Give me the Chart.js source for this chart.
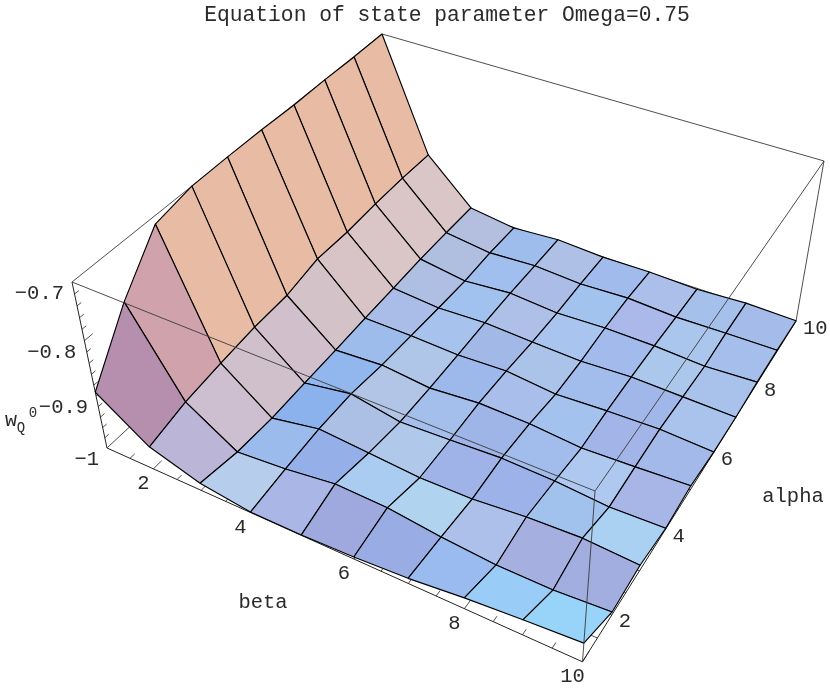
<!DOCTYPE html>
<html>
<head>
<meta charset="utf-8">
<title>Equation of state parameter</title>
<script src="https://cdn.jsdelivr.net/npm/chart.js@4/dist/chart.umd.min.js"></script>
<style>
  html, body { margin: 0; padding: 0; background: #fff; }
  canvas { display: block; }
</style>
</head>
<body>
<canvas id="surfaceChart" width="830" height="693"></canvas>
<script>
const betaValues = [1, 2, 3, 4, 5, 6, 7, 8, 9, 10];
const alphaValues = [1, 2, 3, 4, 5, 6, 7, 8, 9, 10];

// w_Q0, one list per alpha, running along beta
const wAlpha1 = [-0.893, -0.957, -0.986, -0.999, -0.999, -0.996, -0.990, -0.979, -0.971, -0.964];
const wAlpha2 = [-0.792, -0.940, -0.998, -0.990, -0.977, -0.980, -0.992, -1.000, -1.001, -0.994];
const wAlpha3 = [-0.713, -0.931, -1.001, -0.983, -0.990, -0.997, -0.996, -0.987, -0.983, -0.989];
const wAlpha4 = [-0.700, -0.924, -0.998, -0.982, -0.999, -0.995, -0.990, -0.993, -1.001, -0.998];
const wAlpha5 = [-0.699, -0.922, -0.996, -0.990, -0.999, -0.991, -0.993, -1.001, -0.997, -0.992];
const wAlpha6 = [-0.699, -0.908, -0.993, -0.994, -0.997, -0.993, -1.002, -0.997, -0.994, -0.999];
const wAlpha7 = [-0.701, -0.910, -0.991, -0.998, -0.994, -0.998, -1.001, -0.996, -0.998, -1.000];
const wAlpha8 = [-0.700, -0.907, -0.988, -1.001, -0.993, -1.000, -0.996, -0.997, -1.002, -0.997];
const wAlpha9 = [-0.701, -0.906, -0.988, -0.999, -0.994, -0.999, -0.995, -1.000, -0.998, -0.997];
const wAlpha10 = [-0.700, -0.908, -0.989, -1.001, -0.995, -1.000, -0.999, -1.002, -0.997, -0.999];
const surface = [wAlpha1, wAlpha2, wAlpha3, wAlpha4, wAlpha5, wAlpha6, wAlpha7, wAlpha8, wAlpha9, wAlpha10];

const betaTicks = [2, 4, 6, 8, 10];
const alphaTicks = [2, 4, 6, 8, 10];
const wTicks = [-1, -0.9, -0.8, -0.7];
const wTickLabels = ["\u22121", "\u22120.9", "\u22120.8", "\u22120.7"];

const titleText = "Equation of state parameter Omega=0.75";

// box limits
const wMin = -1, wMax = -0.7;

// shaded colour of each face, rows = alpha cell, columns = beta cell
const faceColors = [
  ["#B78FAE", "#BBB6D8", "#B6CEEC", "#A9B6E6", "#A0A9DE", "#9AACE4", "#9ABBF0", "#9ACCF8", "#98D4FA"],
  ["#D0A3AC", "#CDBFCF", "#9ABBEC", "#95AFE8", "#A9CCF0", "#B0D4F0", "#ACC0EA", "#A6B0E0", "#A2ADE0"],
  ["#E8BBA4", "#CFC0CC", "#8CB2EE", "#ACC0E6", "#B0C8EA", "#9FB3E8", "#9DB2E8", "#A2C2EE", "#AAD0F2"],
  ["#E8BBA4", "#D1C0CB", "#92B7EE", "#B2C5E6", "#A4BFEC", "#9FB5E8", "#A2BDEC", "#AEC8F0", "#A7B6E6"],
  ["#E8BBA4", "#D3C2C8", "#9DBCEC", "#B0C6E8", "#9DB9EB", "#A9BEEA", "#A4C2EE", "#A2B4E8", "#A2B9E9"],
  ["#E8BBA4", "#D8C4C6", "#A9BDE8", "#A8C2EE", "#A2B9E8", "#ABC2E9", "#A2BDEC", "#A2B7E9", "#A9C3EC"],
  ["#E8BBA4", "#DAC6C6", "#AFBFE4", "#A1C2EE", "#AFC0E8", "#A9C4EE", "#A2BBEC", "#ACC7EC", "#A8C2EC"],
  ["#E8BBA4", "#DAC6C6", "#B0BEE0", "#A0BFEE", "#ABBDE6", "#A1C3EE", "#ABB9EA", "#ABC6EC", "#A5BEEB"],
  ["#E8BBA4", "#DAC6C6", "#B4BEDF", "#9EBDEC", "#AEC0E6", "#A0BBEC", "#ABBFEA", "#A6C0EC", "#A5BBEA"]
];

// camera fitted to the box of the reference, maps the unit cube to the page
function depthOf(u, v, t) {
  return -0.14837 * u + 0.26013 * v - 0.096 * t + 1.096;
}

function project(beta, alpha, w) {
  const u = (beta - 1) / 9;
  const v = (alpha - 1) / 9;
  const t = (w - wMin) / (wMax - wMin);
  const d = depthOf(u, v, t);
  return {
    x: (434.72 * u + 409.37 * v - 45.27 * t + 117.27) / d,
    y: (136.15 * u - 239.16 * v - 209.0 * t + 491.0) / d
  };
}

function edge(a, b, color, width) {
  return {
    data: [project(a[0], a[1], a[2]), project(b[0], b[1], b[2])],
    borderColor: color,
    borderWidth: width,
    fill: false,
    pointRadius: 0,
    clip: false
  };
}

const boxColor = "#3A3A3A";
const axisColor = "#222222";

// edges that pass in front of the surface
const frontEdges = [
  edge([1, 1, wMax], [10, 1, wMax], boxColor, 0.9),
  edge([10, 1, wMax], [10, 10, wMax], boxColor, 0.9),
  edge([10, 1, wMax], [10, 1, wMin], boxColor, 0.9)
];

// edges and ticks that stay behind it
const backEdges = [
  edge([1, 1, wMin], [1, 10, wMin], boxColor, 0.9),
  edge([1, 10, wMin], [10, 10, wMin], boxColor, 0.9),
  edge([1, 10, wMin], [1, 10, wMax], boxColor, 0.9),
  edge([1, 1, wMax], [1, 10, wMax], boxColor, 0.9),
  edge([1, 10, wMax], [10, 10, wMax], boxColor, 0.9),
  edge([10, 10, wMax], [10, 10, wMin], boxColor, 0.9),
  edge([1, 1, wMin], [10, 1, wMin], axisColor, 1),
  edge([10, 1, wMin], [10, 10, wMin], axisColor, 1),
  edge([1, 1, wMin], [1, 1, wMax], axisColor, 1)
];

for (let b = 1.5; b <= 10; b += 0.5) {
  const len = Number.isInteger(b / 2) ? 0.22 : 0.12;
  backEdges.push(edge([b, 1, wMin], [b, 1 + len, wMin], axisColor, 0.8));
}
for (let a = 1.5; a <= 10; a += 0.5) {
  const len = Number.isInteger(a / 2) ? 0.22 : 0.12;
  backEdges.push(edge([10, a, wMin], [10 - len, a, wMin], axisColor, 0.8));
}
for (let i = 1; i < 15; i++) {
  const w = wMin + i * 0.02;
  const len = i % 5 === 0 ? 0.2 : 0.1;
  backEdges.push(edge([1, 1, w], [1, 1 + len, w], axisColor, 0.8));
}

// faces, nearest first: Chart.js paints the last dataset first
const faces = [];
for (let a = 0; a < alphaValues.length - 1; a++) {
  for (let b = 0; b < betaValues.length - 1; b++) {
    const corners = [[b, a], [b + 1, a], [b + 1, a + 1], [b, a + 1], [b, a]];
    const points = corners.map(c => project(betaValues[c[0]], alphaValues[c[1]], surface[c[1]][c[0]]));
    const midZ = (surface[a][b] + surface[a][b + 1] + surface[a + 1][b] + surface[a + 1][b + 1]) / 4;
    faces.push({
      depth: depthOf((b + 0.5) / 9, (a + 0.5) / 9, (midZ - wMin) / (wMax - wMin)),
      data: points,
      backgroundColor: faceColors[a][b],
      borderColor: "#000000",
      borderWidth: 1.15,
      fill: "shape",
      pointRadius: 0,
      clip: false
    });
  }
}
faces.sort((p, q) => p.depth - q.depth);

// numbers and names that sit on the box edges
const boxLabels = {
  id: "boxLabels",
  afterDatasetsDraw(chart) {
    const { ctx, scales } = chart;
    const px = p => ({ x: scales.x.getPixelForValue(p.x), y: scales.y.getPixelForValue(p.y) });
    const put = (text, x, y, align, size) => {
      ctx.font = size + 'px "Liberation Mono", monospace';
      ctx.textAlign = align;
      ctx.textBaseline = "middle";
      ctx.fillText(text, x, y);
    };
    ctx.save();
    ctx.fillStyle = "#2A2A2A";
    betaTicks.forEach(b => {
      const p = px(project(b, 1, wMin));
      put(String(b), p.x - 10, p.y + 15, "center", 20.5);
    });
    alphaTicks.forEach(a => {
      const p = px(project(10, a, wMin));
      put(String(a), p.x + 7, p.y + 7, "left", 20.5);
    });
    wTicks.forEach((w, i) => {
      const p = px(project(1, 1, w));
      put(wTickLabels[i], p.x - 8, p.y + 12, "right", 20.5);
    });
    put("beta", 263, 603, "center", 20.5);
    put("alpha", 793, 497, "center", 20.5);
    put("w", 11, 421, "center", 20);
    put("Q", 21, 428, "center", 14);
    put("0", 33, 413, "center", 14);
    ctx.restore();
  }
};

new Chart(document.getElementById("surfaceChart"), {
  type: "line",
  data: { datasets: [...frontEdges, ...faces, ...backEdges] },
  options: {
    responsive: false,
    animation: false,
    parsing: false,
    normalized: false,
    layout: { padding: { left: 64 } },
    elements: { line: { tension: 0, borderJoinStyle: "round" } },
    scales: {
      x: { type: "linear", display: false, min: 64, max: 830 },
      y: { type: "linear", display: false, min: 28, max: 693, reverse: true }
    },
    plugins: {
      legend: { display: false },
      tooltip: { enabled: false },
      title: {
        display: true,
        text: titleText,
        fullSize: false,
        color: "#2A2A2A",
        font: { family: '"Liberation Mono", monospace', size: 21.3, weight: "normal", lineHeight: "24px" },
        padding: { top: 3, bottom: 1 }
      }
    }
  },
  plugins: [boxLabels]
});
</script>
</body>
</html>
